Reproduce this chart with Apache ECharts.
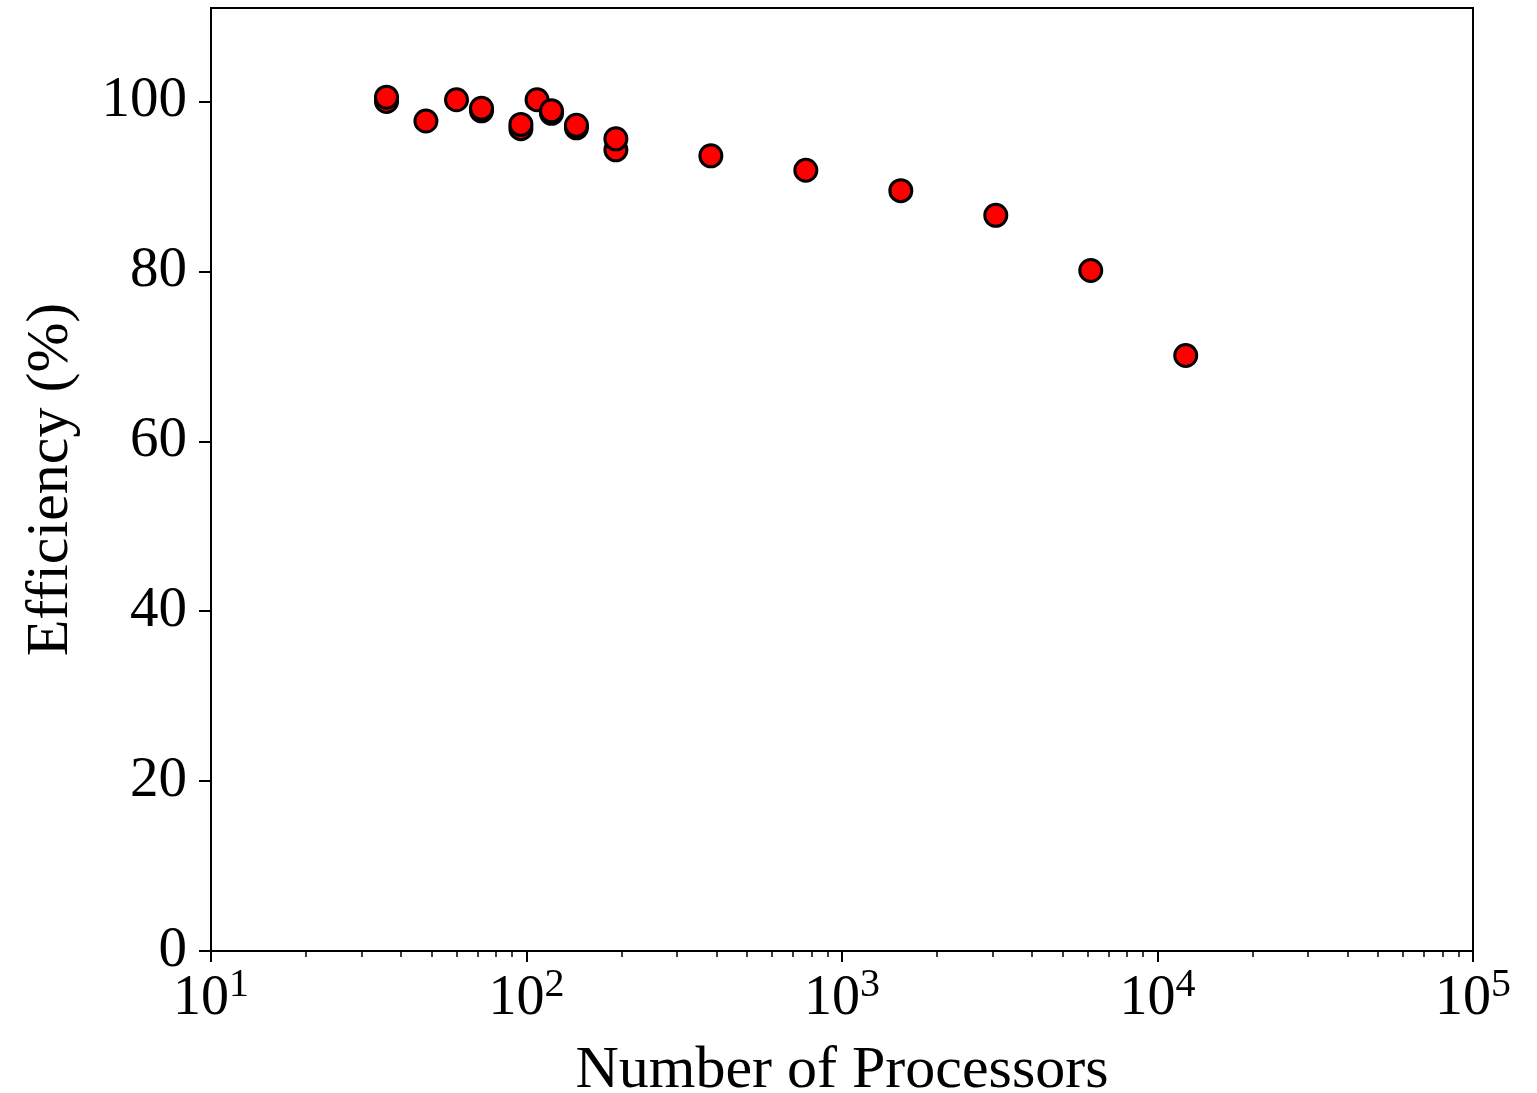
<!DOCTYPE html>
<html>
<head>
<meta charset="utf-8">
<script src="https://cdn.jsdelivr.net/npm/echarts@6/dist/echarts.min.js"></script>
<style>
html,body{margin:0;padding:0;background:#fff;}
#chart{width:1537px;height:1093px;}
</style>
</head>
<body>
<div id="chart"></div>
<script>
// Data
var processors = [36, 36, 48, 60, 72, 72, 96, 96, 108, 120, 120, 144, 144, 192, 192, 384, 768, 1536, 3072, 6144, 12288];
var efficiency = [100.0, 100.5, 97.7, 100.2, 98.9, 99.2, 96.8, 97.3, 100.2, 98.6, 98.9, 96.9, 97.2, 94.3, 95.6, 93.6, 91.9, 89.5, 86.6, 80.1, 70.1];
var xMajorTicks = [10, 100, 1000, 10000, 100000];
var xMinorTicks = [20,30,40,50,60,70,80,90,200,300,400,500,600,700,800,900,2000,3000,4000,5000,6000,7000,8000,9000,20000,30000,40000,50000,60000,70000,80000,90000];
var yTicks = [0, 20, 40, 60, 80, 100];

var points = processors.map(function (p, i) { return [p, efficiency[i]]; });
var FONT = '"Liberation Serif", "DejaVu Serif", serif';

var chart = echarts.init(document.getElementById('chart'), null, {renderer: 'canvas'});
chart.setOption({
  animation: false,
  backgroundColor: '#ffffff',
  grid: {left: 211, top: 8, right: 64, bottom: 142, containLabel: false, outerBoundsMode: 'none',
         show: true, borderColor: '#000', borderWidth: 2, backgroundColor: 'transparent'},
  xAxis: [{
    type: 'log', logBase: 10, min: 10, max: 100000,
    position: 'bottom',
    name: 'Number of Processors', nameLocation: 'middle', nameGap: 90,
    nameTextStyle: {fontFamily: FONT, fontSize: 60, color: '#000'},
    axisLine: {show: true, lineStyle: {color: '#000', width: 2}},
    axisTick: {show: true, length: 11, lineStyle: {color: '#000', width: 2}, customValues: xMajorTicks},
    axisLabel: {
      margin: 14, customValues: xMajorTicks,
      formatter: function (v) { return '{b|10}{s|' + Math.round(Math.log10(v)) + '}'; },
      rich: {
        b: {fontFamily: FONT, fontSize: 56, color: '#000', verticalAlign: 'bottom', lineHeight: 62},
        s: {fontFamily: FONT, fontSize: 40, color: '#000', verticalAlign: 'top', lineHeight: 62}
      }
    },
    splitLine: {show: false}
  }, {
    type: 'log', logBase: 10, min: 10, max: 100000,
    position: 'bottom', offset: 0,
    axisLine: {show: false},
    axisTick: {show: true, length: 6, lineStyle: {color: '#000', width: 1.5}, customValues: xMinorTicks},
    axisLabel: {show: false},
    splitLine: {show: false}
  }],
  yAxis: {
    type: 'value', min: 0, max: 111, interval: 20,
    name: 'Efficiency (%)', nameLocation: 'middle', nameGap: 130,
    nameTextStyle: {fontFamily: FONT, fontSize: 60, color: '#000'},
    axisLine: {show: true, lineStyle: {color: '#000', width: 2}},
    axisTick: {show: true, length: 12, lineStyle: {color: '#000', width: 2}, customValues: yTicks},
    axisLabel: {margin: 24, customValues: yTicks, fontFamily: FONT, fontSize: 57, color: '#000'},
    splitLine: {show: false}
  },
  series: [{
    type: 'scatter',
    xAxisIndex: 0,
    data: points,
    symbol: 'circle',
    symbolSize: 22,
    itemStyle: {color: '#ff0000', borderColor: '#000', borderWidth: 3, opacity: 1}
  }]
});
</script>
</body>
</html>
